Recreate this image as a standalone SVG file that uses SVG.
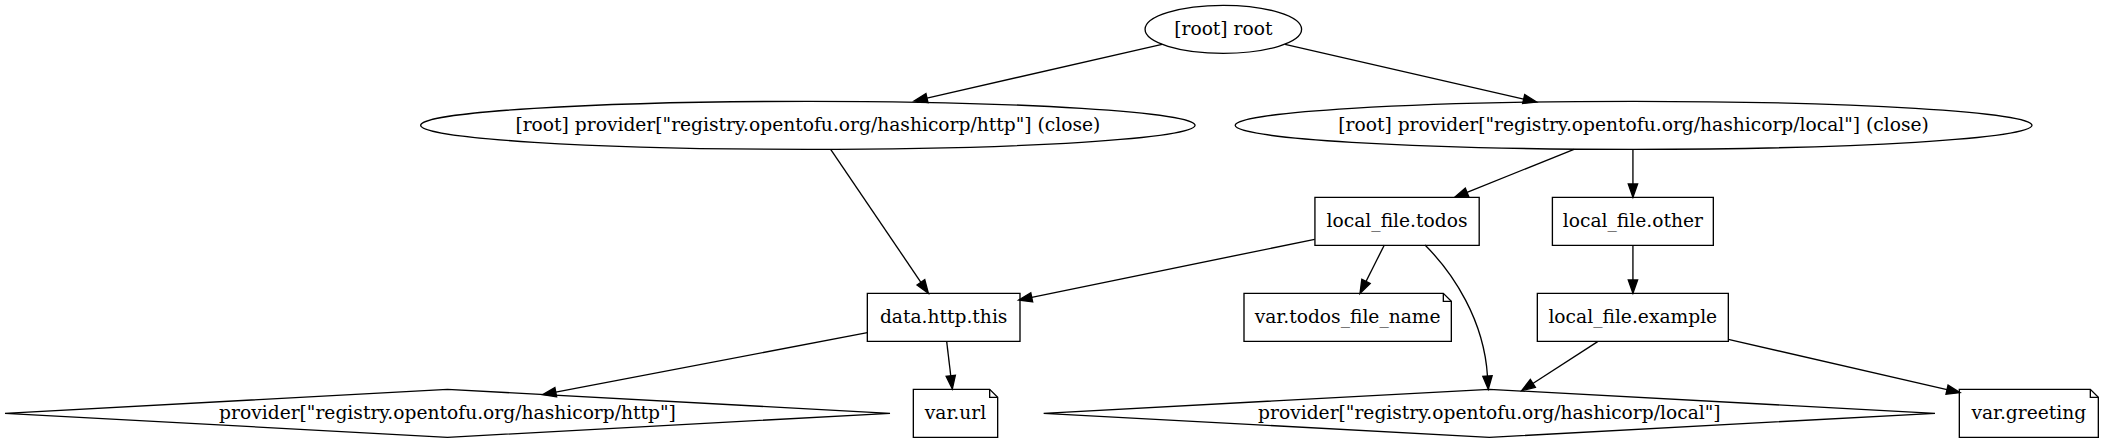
<svg xmlns="http://www.w3.org/2000/svg" width="2104" height="443" viewBox="0 0 2104 443">
<style>
.n ellipse,.n polygon,.n polyline{fill:none;stroke:#000;stroke-width:1}
.n text{font-family:"DejaVu Serif","Liberation Serif",serif;font-size:14px;text-anchor:middle;fill:#000}
.e path{fill:none;stroke:#000;stroke-width:1;marker-end:url(#arr)}
</style>
<defs>
<marker id="arr" markerUnits="userSpaceOnUse" markerWidth="12" markerHeight="9" refX="0" refY="3.5" orient="auto" overflow="visible">
<path d="M0,0 L10,3.5 L0,7 Z" fill="#000" stroke="#000" stroke-width="1"/>
</marker>
</defs>
<rect width="2104" height="443" fill="#fff"/>
<g transform="scale(1.33333)">
<g id="edges" class="e">
<path d="M871.5,33.3 L695.25,73.57"/>
<path d="M963.8,33.3 L1142.75,74.27"/>
<path d="M623,112 L690.68,211.72"/>
<path d="M1180.5,112 L1100.28,144.27"/>
<path d="M1224.7,112 L1224.7,138"/>
<path d="M986,179.5 L773.8,222.99"/>
<path d="M1038.25,183.75 L1024.5,211.07"/>
<path d="M1068.75,183.75 C1090,205 1113,240 1115.6,282"/>
<path d="M1224.7,184 L1224.7,210"/>
<path d="M1198.25,256.25 L1149.65,287.58"/>
<path d="M1296.25,254.5 L1460.26,292.26"/>
<path d="M650.5,249.5 L416.82,294.11"/>
<path d="M710,256 L713.07,281.82"/>
</g>
<g id="root" class="n">
<ellipse cx="917.5" cy="22" rx="58.7" ry="18"/>
<text x="917.5" y="26">[root] root</text>
</g>
<g id="http_close" class="n">
<ellipse cx="605.9" cy="94" rx="290.4" ry="18"/>
<text x="605.9" y="98">[root] provider["registry.opentofu.org/hashicorp/http"] (close)</text>
</g>
<g id="local_close" class="n">
<ellipse cx="1225.2" cy="94" rx="298.8" ry="18"/>
<text x="1225.2" y="98">[root] provider["registry.opentofu.org/hashicorp/local"] (close)</text>
</g>
<g id="local_file_todos" class="n">
<polygon points="986.2,148 1109.4,148 1109.4,184 986.2,184"/>
<text x="1047.8" y="170">local_file.todos</text>
</g>
<g id="local_file_other" class="n">
<polygon points="1164.3,148 1285,148 1285,184 1164.3,184"/>
<text x="1224.65" y="170">local_file.other</text>
</g>
<g id="data_http_this" class="n">
<polygon points="650.5,220 765,220 765,256 650.5,256"/>
<text x="707.75" y="242">data.http.this</text>
</g>
<g id="var_todos_file_name" class="n">
<polygon points="1082.5,220 933,220 933,256 1088.5,256 1088.5,226 1082.5,220"/>
<polyline points="1082.5,220 1082.5,226 1088.5,226"/>
<text x="1010.75" y="242">var.todos_file_name</text>
</g>
<g id="local_file_example" class="n">
<polygon points="1153,220 1296.25,220 1296.25,256 1153,256"/>
<text x="1224.6" y="242">local_file.example</text>
</g>
<g id="provider_http" class="n">
<polygon points="335.6,292 667.5,310 335.6,328 3.75,310"/>
<text x="335.6" y="314">provider["registry.opentofu.org/hashicorp/http"]</text>
</g>
<g id="var_url" class="n">
<polygon points="742.25,292 685,292 685,328 748.25,328 748.25,298 742.25,292"/>
<polyline points="742.25,292 742.25,298 748.25,298"/>
<text x="716.6" y="314">var.url</text>
</g>
<g id="provider_local" class="n">
<polygon points="1117,292 1451.25,310 1117,328 782.75,310"/>
<text x="1117" y="314">provider["registry.opentofu.org/hashicorp/local"]</text>
</g>
<g id="var_greeting" class="n">
<polygon points="1567.75,292 1469.5,292 1469.5,328 1573.75,328 1573.75,298 1567.75,292"/>
<polyline points="1567.75,292 1567.75,298 1573.75,298"/>
<text x="1521.6" y="314">var.greeting</text>
</g>
</g>
</svg>
